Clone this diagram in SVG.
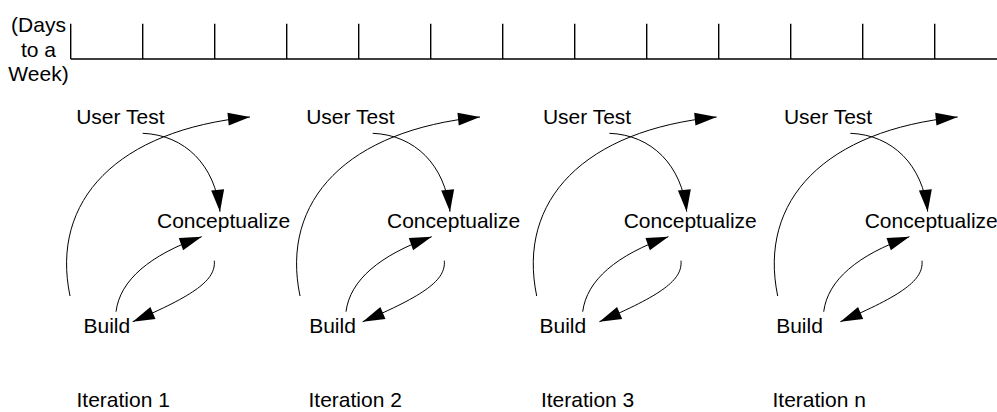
<svg xmlns="http://www.w3.org/2000/svg" width="997" height="412" viewBox="0 0 997 412">
  <defs>
    <marker id="arrow" markerUnits="userSpaceOnUse" markerWidth="22" markerHeight="13" refX="22" refY="6.5" orient="auto" overflow="visible">
      <path d="M0,0 L22,6.5 L0,13 z" fill="#000"/>
    </marker>
    <style>
      .lbl { font-family: "Liberation Sans", Arial, sans-serif; font-size: 21px; fill: #000; }
      .axis { stroke: #000; stroke-width: 1.4; fill: none; }
      .flow { stroke: #000; stroke-width: 1; fill: none; marker-end: url(#arrow); }
    </style>
  </defs>
  <rect width="997" height="412" fill="#fff"/>

  <!-- time scale -->
  <g id="timeline">
    <path class="axis" d="M70.7,59 H997 M70.7,23.7 V59 M142.7,23.7 V59 M214.7,23.7 V59 M286.7,23.7 V59 M358.7,23.7 V59 M430.7,23.7 V59 M502.7,23.7 V59 M574.7,23.7 V59 M646.7,23.7 V59 M718.7,23.7 V59 M790.7,23.7 V59 M862.7,23.7 V59 M934.7,23.7 V59"/>
    <text class="lbl" text-anchor="middle"><tspan x="38.5" y="32">(Days</tspan><tspan x="38.5" y="56.5">to a</tspan><tspan x="38.5" y="81">Week)</tspan></text>
  </g>

  <!-- iteration 1 -->
  <g id="usertest-1"><text class="lbl" x="76.2" y="124.3">User Test</text></g>
  <g id="conceptualize-1"><text class="lbl" x="157" y="227.7">Conceptualize</text></g>
  <g id="build-1"><text class="lbl" x="83.5" y="333">Build</text></g>
  <g id="iteration-1"><text class="lbl" x="76.5" y="407">Iteration 1</text></g>

  <!-- iteration 2 -->
  <g id="usertest-2"><text class="lbl" x="306.2" y="124.3">User Test</text></g>
  <g id="conceptualize-2"><text class="lbl" x="387" y="227.7">Conceptualize</text></g>
  <g id="build-2"><text class="lbl" x="309.2" y="333">Build</text></g>
  <g id="iteration-2"><text class="lbl" x="308.5" y="407">Iteration 2</text></g>

  <!-- iteration 3 -->
  <g id="usertest-3"><text class="lbl" x="542.9" y="124.3">User Test</text></g>
  <g id="conceptualize-3"><text class="lbl" x="623.7" y="227.7">Conceptualize</text></g>
  <g id="build-3"><text class="lbl" x="539.5" y="333">Build</text></g>
  <g id="iteration-3"><text class="lbl" x="540.9" y="407">Iteration 3</text></g>

  <!-- iteration n -->
  <g id="usertest-n"><text class="lbl" x="783.9" y="124.3">User Test</text></g>
  <g id="conceptualize-n"><text class="lbl" x="864.7" y="227.7">Conceptualize</text></g>
  <g id="build-n"><text class="lbl" x="776.2" y="333">Build</text></g>
  <g id="iteration-n"><text class="lbl" x="772.5" y="407">Iteration n</text></g>

  <!-- loop arrows, one set per iteration -->
  <g id="connectors">
    <g id="loop-1">
      <path class="flow" d="M70,296 C50,200 118,130 250,117"/>
      <path class="flow" d="M142.7,133.3 C185,135 215,165 220,211.7"/>
      <path class="flow" d="M116,311.7 C120,280 150,255 201.7,236.7"/>
      <path class="flow" d="M214.3,260.7 C216,280 195,295 132.7,321.7"/>
    </g>
    <g id="loop-2" transform="translate(230,0)">
      <path class="flow" d="M70,296 C50,200 118,130 250,117"/>
      <path class="flow" d="M142.7,133.3 C185,135 215,165 220,211.7"/>
      <path class="flow" d="M116,311.7 C120,280 150,255 201.7,236.7"/>
      <path class="flow" d="M214.3,260.7 C216,280 195,295 132.7,321.7"/>
    </g>
    <g id="loop-3" transform="translate(466.7,0)">
      <path class="flow" d="M70,296 C50,200 118,130 250,117"/>
      <path class="flow" d="M142.7,133.3 C185,135 215,165 220,211.7"/>
      <path class="flow" d="M116,311.7 C120,280 150,255 201.7,236.7"/>
      <path class="flow" d="M214.3,260.7 C216,280 195,295 132.7,321.7"/>
    </g>
    <g id="loop-n" transform="translate(707.7,0)">
      <path class="flow" d="M70,296 C50,200 118,130 250,117"/>
      <path class="flow" d="M142.7,133.3 C185,135 215,165 220,211.7"/>
      <path class="flow" d="M116,311.7 C120,280 150,255 201.7,236.7"/>
      <path class="flow" d="M214.3,260.7 C216,280 195,295 132.7,321.7"/>
    </g>
  </g>
</svg>
